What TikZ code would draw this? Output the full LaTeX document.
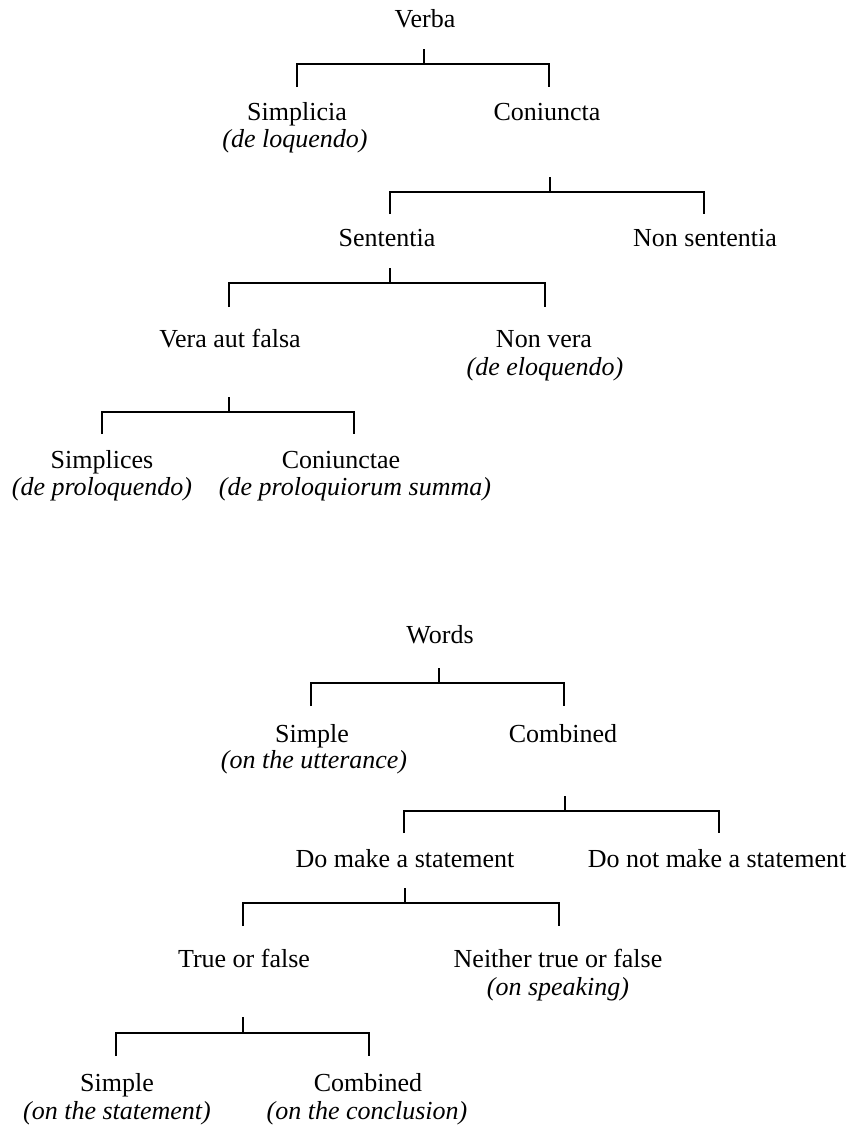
\documentclass[tikz,border=0pt]{standalone}
\usepackage{fontspec}
\setmainfont{Liberation Serif}
\begin{document}
\begin{tikzpicture}[x=0.5pt,y=-0.5pt,
  term/.style={anchor=base,inner sep=0pt,font=\fontsize{13pt}{13.5pt}\selectfont},
  note/.style={term,font=\fontsize{13pt}{13.5pt}\selectfont\itshape},
  link/.style={draw=black,line width=0.75pt,line cap=butt}]
\useasboundingbox (0,0) rectangle (861,1132);

% ---------- Latin division ----------
\node[term] (verba) at (425,27) {Verba};
\node[term] (simplicia) at (297,120) {Simplicia};
\node[note] (simplicia-n) at (295,147) {(de loquendo)};
\node[term] (coniuncta) at (547,120) {Coniuncta};
\node[term] (sententia) at (387,246) {Sententia};
\node[term] (nonsententia) at (705,246) {Non sententia};
\node[term] (vera) at (230,347) {Vera aut falsa};
\node[term] (nonvera) at (544,347) {Non vera};
\node[note] (nonvera-n) at (545,375) {(de eloquendo)};
\node[term] (simplices) at (102,468) {Simplices};
\node[note] (simplices-n) at (102,495) {(de proloquendo)};
\node[term] (coniunctae) at (341,468) {Coniunctae};
\node[note] (coniunctae-n) at (355,495) {(de proloquiorum summa)};

% fork points and leg ends
\coordinate (verba-out) at (424,49);
\coordinate (verba-fork) at (424,64);
\coordinate (simplicia-in) at (297,87);
\coordinate (coniuncta-in) at (549,87);

\coordinate (coniuncta-out) at (550,177);
\coordinate (coniuncta-fork) at (550,192);
\coordinate (sententia-in) at (390,214);
\coordinate (nonsententia-in) at (704,214);

\coordinate (sententia-out) at (390,268);
\coordinate (sententia-fork) at (390,283);
\coordinate (vera-in) at (229,307);
\coordinate (nonvera-in) at (545,307);

\coordinate (vera-out) at (229,397);
\coordinate (vera-fork) at (229,412);
\coordinate (simplices-in) at (102,434);
\coordinate (coniunctae-in) at (354,434);

\draw[link] (verba-out) -- (verba-fork);
\draw[link] (simplicia-in) |- (verba-fork) -| (coniuncta-in);
\draw[link] (coniuncta-out) -- (coniuncta-fork);
\draw[link] (sententia-in) |- (coniuncta-fork) -| (nonsententia-in);
\draw[link] (sententia-out) -- (sententia-fork);
\draw[link] (vera-in) |- (sententia-fork) -| (nonvera-in);
\draw[link] (vera-out) -- (vera-fork);
\draw[link] (simplices-in) |- (vera-fork) -| (coniunctae-in);

% ---------- English division ----------
\node[term] (words) at (440,643) {Words};
\node[term] (simple) at (312,742) {Simple};
\node[note] (simple-n) at (314,768) {(on the utterance)};
\node[term] (combined) at (563,742) {Combined};
\node[term] (domake) at (405,867) {Do make a statement};
\node[term] (donot) at (717,867) {Do not make a statement};
\node[term] (truefalse) at (244,967) {True or false};
\node[term] (neither) at (558,967) {Neither true or false};
\node[note] (neither-n) at (558,995) {(on speaking)};
\node[term] (simplest) at (117,1091) {Simple};
\node[note] (simplest-n) at (117,1119) {(on the statement)};
\node[term] (combconcl) at (368,1091) {Combined};
\node[note] (combconcl-n) at (367,1119) {(on the conclusion)};

\coordinate (words-out) at (439,668);
\coordinate (words-fork) at (439,683);
\coordinate (simple-in) at (311,706);
\coordinate (combined-in) at (564,706);

\coordinate (combined-out) at (565,796);
\coordinate (combined-fork) at (565,811);
\coordinate (domake-in) at (404,833);
\coordinate (donot-in) at (719,833);

\coordinate (domake-out) at (405,888);
\coordinate (domake-fork) at (405,903);
\coordinate (truefalse-in) at (243,926);
\coordinate (neither-in) at (559,926);

\coordinate (truefalse-out) at (243,1017);
\coordinate (truefalse-fork) at (243,1033);
\coordinate (simplest-in) at (116,1056);
\coordinate (combconcl-in) at (369,1056);

\draw[link] (words-out) -- (words-fork);
\draw[link] (simple-in) |- (words-fork) -| (combined-in);
\draw[link] (combined-out) -- (combined-fork);
\draw[link] (domake-in) |- (combined-fork) -| (donot-in);
\draw[link] (domake-out) -- (domake-fork);
\draw[link] (truefalse-in) |- (domake-fork) -| (neither-in);
\draw[link] (truefalse-out) -- (truefalse-fork);
\draw[link] (simplest-in) |- (truefalse-fork) -| (combconcl-in);
\end{tikzpicture}
\end{document}
